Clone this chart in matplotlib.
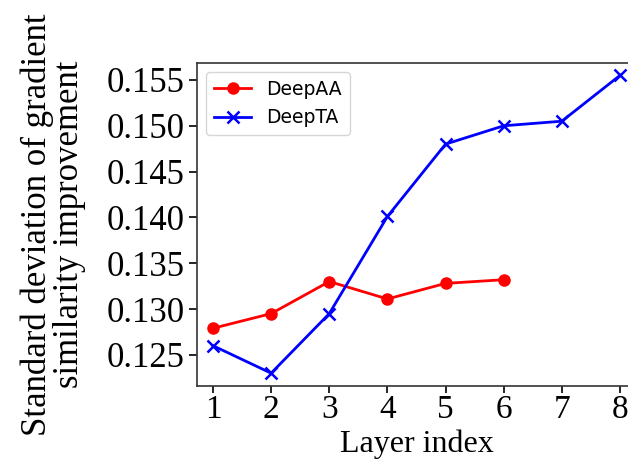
import matplotlib
matplotlib.use("Agg")
import matplotlib.pyplot as plt

layers_aa = [1, 2, 3, 4, 5, 6]
deepaa = [0.1279, 0.1295, 0.1330, 0.1311, 0.1328, 0.1332]
layers_ta = [1, 2, 3, 4, 5, 6, 7, 8]
deepta = [0.1260, 0.1230, 0.1295, 0.1401, 0.1480, 0.1500, 0.1505, 0.1555]
yticks = [0.125, 0.130, 0.135, 0.140, 0.145, 0.150, 0.155]
xticks = [1, 2, 3, 4, 5, 6, 7, 8]

fig = plt.figure(figsize=(6.28, 4.63), dpi=100)
ax = fig.add_axes([0.3137, 0.1663, 0.7213, 0.6976])
ax.plot(layers_aa, deepaa, color='r', marker='o', markersize=8, linewidth=2, label='DeepAA')
ax.plot(layers_ta, deepta, color='b', marker='x', markersize=9, markeredgewidth=1.8, linewidth=2, label='DeepTA')
ax.set_xlim(0.725, 8.516)
ax.set_ylim(0.1216, 0.15685)
ax.set_xticks(xticks)
ax.set_yticks(yticks)
ax.set_yticklabels([f"{v:.3f}" for v in yticks])
serif = 'Liberation Serif'
for lab in ax.get_yticklabels():
    lab.set_fontfamily(serif)
    lab.set_fontsize(25)
for lab in ax.get_xticklabels():
    lab.set_fontfamily(serif)
    lab.set_fontsize(24)
ax.tick_params(axis='y', length=6, width=1.2, pad=3)
ax.tick_params(axis='x', length=5, width=1.2, pad=1)
ax.set_xlabel('Layer index', fontfamily=serif, fontsize=23)
ax.xaxis.set_label_coords(0.486, -0.134)
ax.set_ylabel('Standard deviation of gradient\nsimilarity improvement', fontfamily=serif,
              fontsize=25, linespacing=0.95)
ax.yaxis.set_label_coords(-0.245, 0.5)
for s in ax.spines.values():
    s.set_linewidth(1.2)
    s.set_color('#333333')
ax.legend(loc='upper left', fontsize=13.5, handlelength=2.0, borderaxespad=0.5)
fig.savefig('out.png', dpi=100)
